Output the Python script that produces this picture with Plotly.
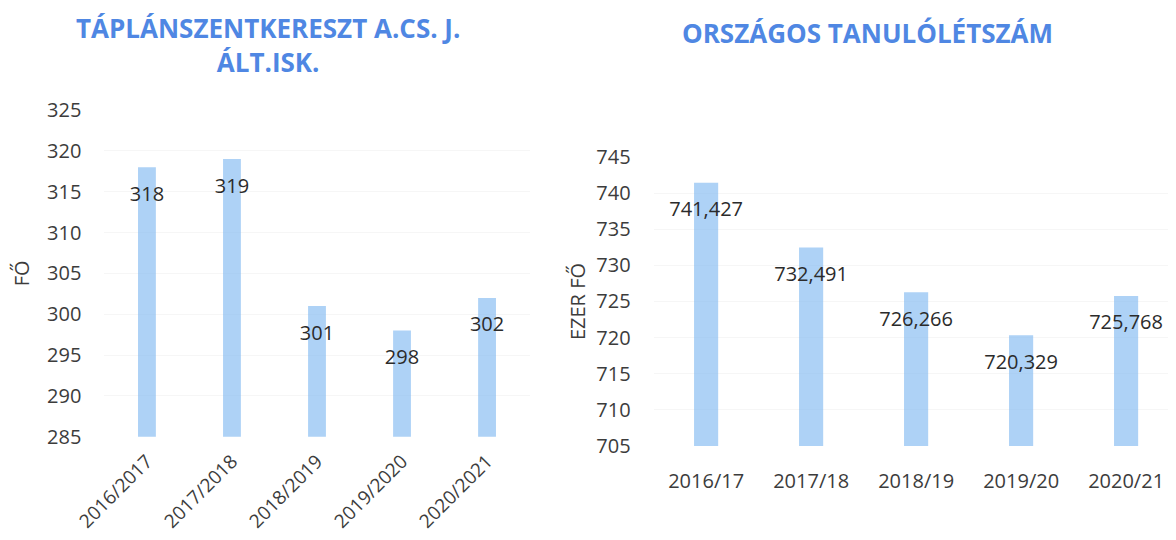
import plotly.graph_objects as go

# bal oldali diagram: iskola tanulólétszáma (fő)
school_years = ["2016/2017", "2017/2018", "2018/2019", "2019/2020", "2020/2021"]
school_counts = [318, 319, 301, 298, 302]

# jobb oldali diagram: országos tanulólétszám (ezer fő)
national_years = ["2016/17", "2017/18", "2018/19", "2019/20", "2020/21"]
national_counts = [741.427, 732.491, 726.266, 720.329, 725.768]

left_ticks = [285, 290, 295, 300, 305, 310, 315, 320, 325]
right_ticks = [705, 710, 715, 720, 725, 730, 735, 740, 745]

FONT = "Open Sans, Calibri, sans-serif"
TITLE_COLOR = "#4f87e3"
TICK_COLOR = "#3c3c3c"
LABEL_COLOR = "#2b2b2b"
BAR_COLOR = "rgba(125,183,240,0.62)"

fig = go.Figure()

# ===== bal: iskola =====
fig.add_trace(go.Bar(
    x=school_years, y=school_counts,
    marker=dict(color=BAR_COLOR, line=dict(width=0)),
    width=0.21, xaxis="x", yaxis="y", showlegend=False,
))
fig.add_trace(go.Scatter(
    x=school_years, y=school_counts,
    mode="markers+text",
    text=[str(v) for v in school_counts],
    textposition="bottom center",
    textfont=dict(size=20, color=LABEL_COLOR, family=FONT),
    marker=dict(size=28, color="rgba(0,0,0,0)"),
    xaxis="x", yaxis="y", showlegend=False, hoverinfo="skip",
))

# ===== jobb: országos =====
fig.add_trace(go.Bar(
    x=national_years, y=national_counts,
    marker=dict(color=BAR_COLOR, line=dict(width=0)),
    width=0.23, xaxis="x2", yaxis="y2", showlegend=False,
))
fig.add_trace(go.Scatter(
    x=national_years, y=national_counts,
    mode="markers+text",
    text=[f"{v:.3f}".replace(".", ",") for v in national_counts],
    textposition="bottom center",
    textfont=dict(size=20, color=LABEL_COLOR, family=FONT),
    marker=dict(size=28, color="rgba(0,0,0,0)"),
    xaxis="x2", yaxis="y2", showlegend=False, hoverinfo="skip",
))

axis_font = dict(size=20, color=TICK_COLOR, family=FONT)
title_font = dict(size=20, color=TICK_COLOR, family=FONT)

fig.update_layout(
    width=1176, height=540,
    margin=dict(l=0, r=0, t=0, b=0),
    paper_bgcolor="white", plot_bgcolor="white",
    font=dict(family=FONT, color=TICK_COLOR),
    xaxis=dict(
        domain=[0.082, 0.4435], anchor="y",
        tickangle=-45, tickfont=dict(size=19, color=TICK_COLOR, family=FONT),
        ticks="outside", ticklen=5, tickcolor="white",
        showline=False, showgrid=False, automargin=False,
    ),
    yaxis=dict(
        domain=[0.206, 0.811], anchor="x",
        range=[285, 325], tickvals=left_ticks, tickfont=axis_font,
        showgrid=True, gridcolor="#f6f6f6", zeroline=False,
        ticks="outside", ticklen=18, tickcolor="white",
        title=dict(text="FŐ", font=title_font, standoff=14),
        automargin=False,
    ),
    xaxis2=dict(
        domain=[0.549, 0.9954], anchor="y2",
        tickangle=0, tickfont=axis_font,
        ticks="outside", ticklen=17, tickcolor="white",
        showline=False, showgrid=False, automargin=False,
    ),
    yaxis2=dict(
        domain=[0.189, 0.724], anchor="x2",
        range=[705, 745], tickvals=right_ticks, tickfont=axis_font,
        showgrid=True, gridcolor="#f6f6f6", zeroline=False,
        ticks="outside", ticklen=18, tickcolor="white",
        title=dict(text="EZER FŐ", font=title_font, standoff=5),
        automargin=False,
    ),
    annotations=[
        dict(
            text="<b>TÁPLÁNSZENTKERESZT A.CS. J.<br>ÁLT.ISK.</b>",
            x=0.221, y=1.0, xref="paper", yref="paper",
            xanchor="center", yanchor="top", showarrow=False,
            font=dict(size=26, color=TITLE_COLOR, family=FONT),
        ),
        dict(
            text="<b>ORSZÁGOS TANULÓLÉTSZÁM</b>",
            x=0.731, y=0.99, xref="paper", yref="paper",
            xanchor="center", yanchor="top", showarrow=False,
            font=dict(size=26, color=TITLE_COLOR, family=FONT),
        ),
    ],
)

fig.write_html("out.html")
